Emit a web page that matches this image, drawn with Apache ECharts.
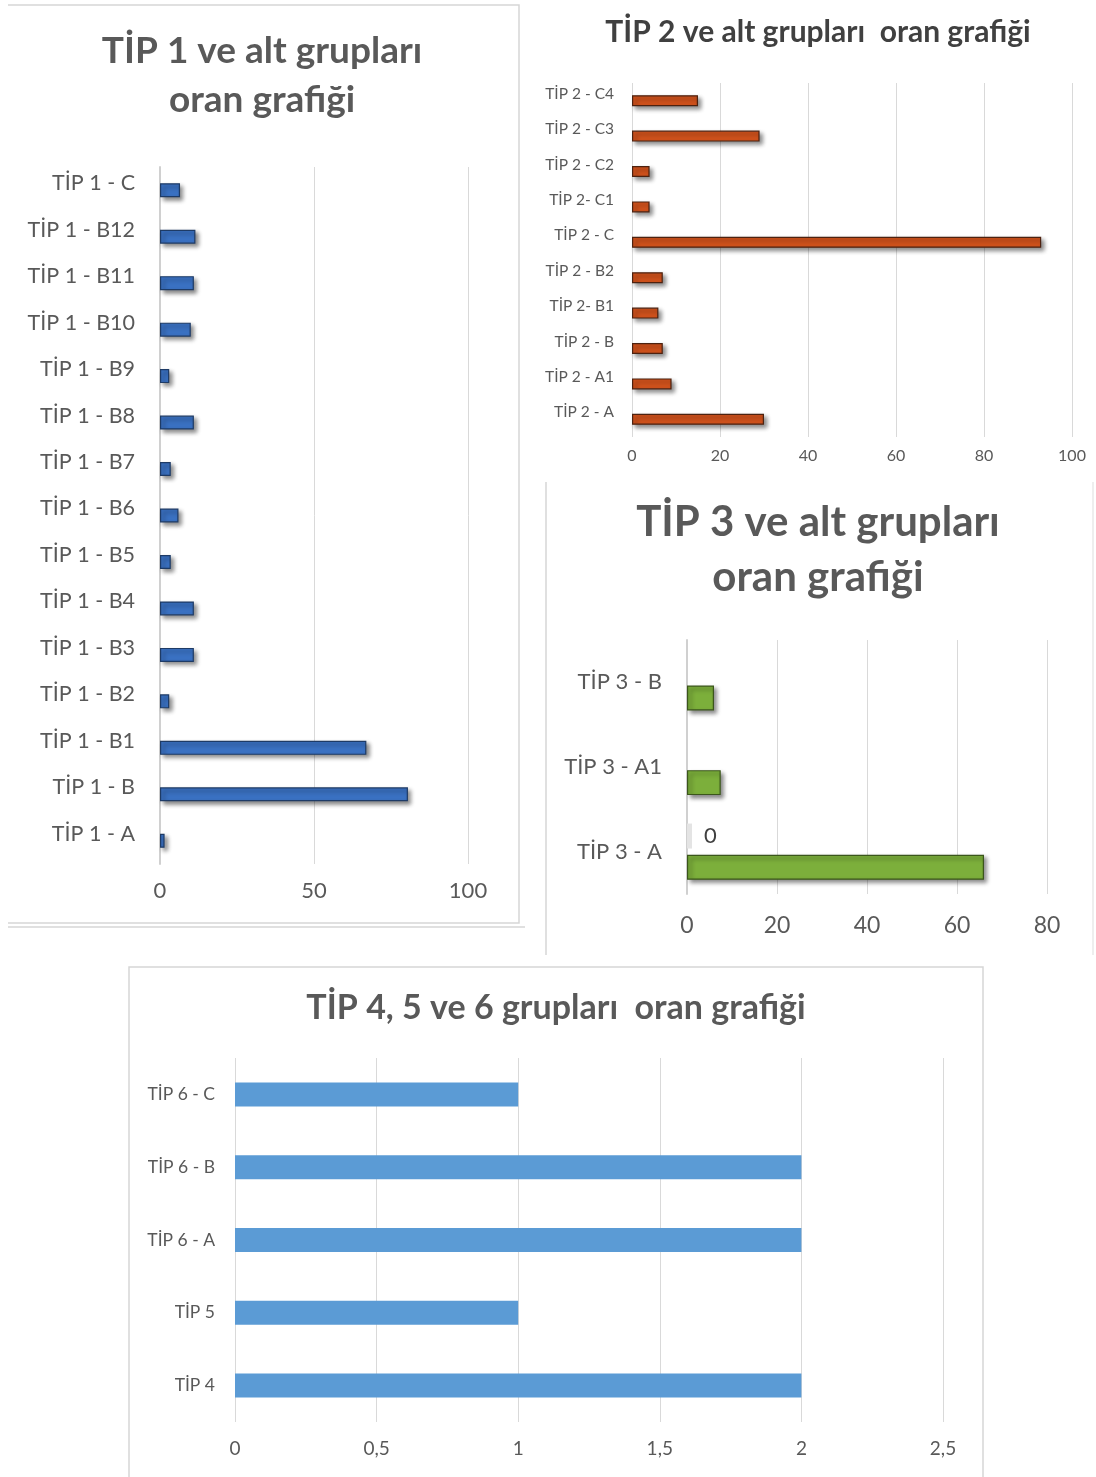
<!DOCTYPE html>
<html>
<head>
<meta charset="utf-8">
<script src="https://cdn.jsdelivr.net/npm/echarts@6/dist/echarts.min.js"></script>
<style>
  html, body { margin: 0; padding: 0; background: #ffffff; }
  #chart { width: 1096px; height: 1477px; }
</style>
</head>
<body>
<div id="chart"></div>
<script>
// ---- data (categories listed bottom to top) ----
const tip1Categories = ['TİP 1 - A', 'TİP 1 - B', 'TİP 1 - B1', 'TİP 1 - B2', 'TİP 1 - B3', 'TİP 1 - B4',
  'TİP 1 - B5', 'TİP 1 - B6', 'TİP 1 - B7', 'TİP 1 - B8', 'TİP 1 - B9', 'TİP 1 - B10',
  'TİP 1 - B11', 'TİP 1 - B12', 'TİP 1 - C'];
const tip1Values = [1.5, 80.5, 67, 3, 11, 11, 3.5, 6, 3.5, 11, 3, 10, 11, 11.5, 6.5];
const tip1Ticks = [0, 50, 100];

const tip2Categories = ['TİP 2 - A', 'TİP 2 - A1', 'TİP 2 - B', 'TİP 2- B1', 'TİP 2 - B2',
  'TİP 2 - C', 'TİP 2- C1', 'TİP 2 - C2', 'TİP 2 - C3', 'TİP 2 - C4'];
const tip2Values = [30, 9, 7, 6, 7, 93, 4, 4, 29, 15];
const tip2Ticks = [0, 20, 40, 60, 80, 100];

const tip3Categories = ['TİP 3 - A', 'TİP 3 - A1', 'TİP 3 - B'];
const tip3Values = [66, 7.5, 6];
const tip3ZeroValues = [0, null, null];
const tip3Ticks = [0, 20, 40, 60, 80];

const tip4Categories = ['TİP 4', 'TİP 5', 'TİP 6 - A', 'TİP 6 - B', 'TİP 6 - C'];
const tip4Values = [2, 1, 2, 2, 1];
const tip4Ticks = ['0', '0,5', '1', '1,5', '2', '2,5'];

// ---- shared styles ----
const FONT = 'Lato';
const GRID_LINE = '#d9d9d9';
const LABEL_COLOR = '#595959';
const FRAME = '#d6d6d6';

function valueAxis(gridIndex, max, interval, fontSize, margin, formatter) {
  return {
    type: 'value', gridIndex, min: 0, max, interval,
    axisLine: { show: false }, axisTick: { show: false },
    splitLine: { lineStyle: { color: GRID_LINE, width: 1 } },
    axisLabel: { color: LABEL_COLOR, fontFamily: FONT, fontSize, margin, formatter }
  };
}

// shiftUp > 0 lifts each category label above the centre of its bar
function categoryAxis(gridIndex, data, fontSize, margin, shiftUp, axisLineShow) {
  const label = { color: LABEL_COLOR, fontFamily: FONT, fontSize, margin };
  if (shiftUp > 0) {
    label.verticalAlign = 'bottom';
    label.lineHeight = shiftUp * 2;
  }
  return {
    type: 'category', gridIndex, data,
    axisLine: { show: axisLineShow, lineStyle: { color: '#d0d0d0', width: 2 } },
    axisTick: { show: false },
    axisLabel: label
  };
}

const shadow = { shadowColor: 'rgba(0,0,0,0.45)', shadowBlur: 4, shadowOffsetX: 3, shadowOffsetY: 3 };

function title(text, x, top, fontSize, lineHeight, color) {
  return {
    text, left: x, top, textAlign: 'center', padding: 0,
    textStyle: { fontFamily: FONT, fontWeight: 'bold', fontSize, lineHeight, color }
  };
}

const chart = echarts.init(document.getElementById('chart'), null, { renderer: 'canvas' });

chart.setOption({
  backgroundColor: '#ffffff',
  animation: false,
  title: [
    title('TİP 1 ve alt grupları\noran grafiği', 262, 27, 37, 49, '#595959'),
    title('TİP 2 ve alt grupları  oran grafiği', 818, 14, 30, 36, '#404040'),
    title('TİP 3 ve alt grupları\noran grafiği', 818, 495, 42, 55, '#595959'),
    title('TİP 4, 5 ve 6 grupları  oran grafiği', 556, 988, 34, 40, '#595959')
  ],
  graphic: [
    // panel frames
    { type: 'polyline', shape: { points: [[8, 5], [519, 5], [519, 923], [8, 923]] },
      style: { stroke: FRAME, lineWidth: 1.5, fill: null } },
    { type: 'line', shape: { x1: 8, y1: 927, x2: 525, y2: 927 }, style: { stroke: FRAME, lineWidth: 1.5 } },
    { type: 'line', shape: { x1: 546, y1: 482, x2: 546, y2: 955 }, style: { stroke: FRAME, lineWidth: 1.5 } },
    { type: 'line', shape: { x1: 1093, y1: 482, x2: 1093, y2: 955 }, style: { stroke: '#e8e8e8', lineWidth: 1.5 } },
    { type: 'rect', shape: { x: 129, y: 967, width: 854, height: 520 },
      style: { stroke: FRAME, lineWidth: 1.5, fill: null } }
  ],
  grid: [
    { left: 160, top: 167, width: 308, height: 697 },
    { left: 632, top: 83, width: 440, height: 354 },
    { left: 687, top: 640, width: 360, height: 254 },
    { left: 235, top: 1058, width: 708, height: 364 }
  ],
  xAxis: [
    valueAxis(0, tip1Ticks[tip1Ticks.length - 1], tip1Ticks[1] - tip1Ticks[0], 22, 16),
    valueAxis(1, tip2Ticks[tip2Ticks.length - 1], tip2Ticks[1] - tip2Ticks[0], 16, 11),
    valueAxis(2, tip3Ticks[tip3Ticks.length - 1], tip3Ticks[1] - tip3Ticks[0], 23, 20),
    valueAxis(3, 2.5, 0.5, 19, 17, (v) => tip4Ticks[Math.round(v / 0.5)])
  ],
  yAxis: [
    categoryAxis(0, tip1Categories, 21.5, 25, 7, true),
    categoryAxis(1, tip2Categories, 15.5, 18, 7, false),
    categoryAxis(2, tip3Categories, 22, 25, 0, true),
    categoryAxis(3, tip4Categories, 17.5, 20, 0, false)
  ],
  series: [
    {
      type: 'bar', xAxisIndex: 0, yAxisIndex: 0, data: tip1Values, barWidth: 14,
      itemStyle: Object.assign({ color: '#3a71c2', borderColor: '#1e3b66', borderWidth: 1.2 }, shadow)
    },
    {
      type: 'bar', xAxisIndex: 1, yAxisIndex: 1, data: tip2Values, barWidth: 11,
      itemStyle: Object.assign({ color: '#d0521c', borderColor: '#4d2210', borderWidth: 1.2 }, shadow)
    },
    {
      type: 'bar', xAxisIndex: 2, yAxisIndex: 2, data: tip3ZeroValues, barWidth: 25, barGap: '25%',
      barMinHeight: 5,
      itemStyle: { color: '#e4e4e4' },
      label: { show: true, position: 'right', distance: 12, color: '#404040', fontFamily: FONT, fontSize: 22 }
    },
    {
      type: 'bar', xAxisIndex: 2, yAxisIndex: 2, data: tip3Values, barWidth: 25, barGap: '25%',
      itemStyle: Object.assign({ color: '#7caf3b', borderColor: '#3b561b', borderWidth: 1.2 }, shadow)
    },
    {
      type: 'bar', xAxisIndex: 3, yAxisIndex: 3, data: tip4Values, barWidth: 24,
      itemStyle: { color: '#5b9bd5' }
    }
  ]
});
</script>
</body>
</html>
